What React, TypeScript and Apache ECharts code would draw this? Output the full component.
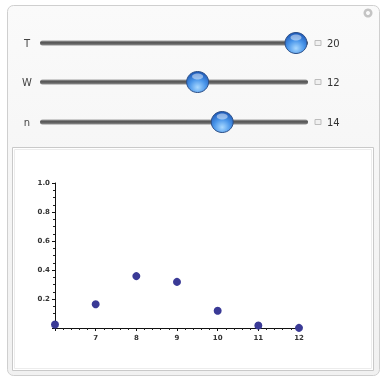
import React, { useEffect, useRef } from "react";
import * as echarts from "echarts";

const successes = [6, 7, 8, 9, 10, 11, 12];
const probabilities = [0.024, 0.164, 0.358, 0.318, 0.119, 0.017, 0.001];
const sliderNames = ["T", "W", "n"];
const sliderValues = [20, 12, 14];
const sliderMax = 20;
const yTicks = [0.2, 0.4, 0.6, 0.8, 1.0];

export default function App() {
  const ref = useRef<HTMLDivElement>(null);
  useEffect(() => {
    if (!ref.current) return;
    const chart = echarts.init(ref.current, null, { renderer: "svg" });

    const trackX0 = 40;
    const trackX1 = 308;
    const thumbMin = 50;
    const thumbMax = 296;
    const rowY = [43, 82, 122];

    const graphics: any[] = [];
    graphics.push({
      type: "rect",
      z: -10,
      shape: { x: 7.5, y: 5.5, width: 372, height: 370, r: 6 },
      style: {
        fill: new echarts.graphic.LinearGradient(0, 0, 0, 1, [
          { offset: 0, color: "#fafafa" },
          { offset: 1, color: "#f1f1f1" },
        ]),
        stroke: "#cfcfcf",
        lineWidth: 1,
      },
    });
    graphics.push({
      type: "ring",
      z: -5,
      shape: { cx: 368, cy: 13, r: 4.5, r0: 2 },
      style: { fill: "#c4c4c4" },
    });
    graphics.push({
      type: "rect",
      z: -9,
      shape: { x: 12.5, y: 147.5, width: 361, height: 223 },
      style: { fill: "#ffffff", stroke: "#c9c9c9", lineWidth: 1 },
    });
    graphics.push({
      type: "rect",
      z: -8,
      shape: { x: 14.5, y: 149.5, width: 357, height: 219 },
      style: { fill: "#ffffff", stroke: "#ececec", lineWidth: 1 },
    });

    sliderNames.forEach((name, i) => {
      const y = rowY[i];
      const v = sliderValues[i];
      const tx = thumbMin + (v / sliderMax) * (thumbMax - thumbMin);
      graphics.push({
        type: "text",
        z: -5,
        style: {
          text: name,
          x: 27,
          y,
          fill: "#444",
          font: "10px 'DejaVu Sans', sans-serif",
          align: "center",
          verticalAlign: "middle",
        },
      });
      graphics.push({
        type: "rect",
        z: -5,
        shape: { x: trackX0, y: y - 2.5, width: trackX1 - trackX0, height: 5, r: 2.5 },
        style: {
          fill: new echarts.graphic.LinearGradient(0, 0, 0, 1, [
            { offset: 0, color: "#a0a0a0" },
            { offset: 0.45, color: "#505050" },
            { offset: 1, color: "#909090" },
          ]),
        },
      });
      graphics.push({
        type: "rect",
        z: -5,
        shape: { x: 315, y: y - 2.5, width: 6, height: 5 },
        style: { fill: "#f0f0f0", stroke: "#bdbdbd", lineWidth: 1 },
      });
      graphics.push({
        type: "text",
        z: -5,
        style: {
          text: String(v),
          x: 327,
          y,
          fill: "#333",
          font: "10px 'DejaVu Sans', sans-serif",
          align: "left",
          verticalAlign: "middle",
        },
      });
      graphics.push({
        type: "ellipse",
        z: -4,
        shape: { cx: tx, cy: y, rx: 11, ry: 10.5 },
        style: {
          fill: new echarts.graphic.RadialGradient(0.5, 0.75, 0.75, [
            { offset: 0, color: "#a8d8ff" },
            { offset: 0.5, color: "#4a96ea" },
            { offset: 1, color: "#1a55b5" },
          ]),
          stroke: "#2d4f86",
          lineWidth: 1,
        },
      });
      graphics.push({
        type: "ellipse",
        z: -3,
        shape: { cx: tx, cy: y - 5.5, rx: 5.5, ry: 3 },
        style: { fill: "rgba(255,255,255,0.45)" },
      });
    });

    chart.setOption({
      animation: false,
      graphic: { elements: graphics },
      grid: { left: 55, top: 183, width: 244, height: 145, containLabel: false },
      xAxis: {
        type: "value",
        min: 6,
        max: 12,
        interval: 1,
        axisLine: { onZero: false, lineStyle: { color: "#111", width: 1 } },
        axisTick: { show: true, length: 3, inside: false, lineStyle: { color: "#111" } },
        minorTick: { show: true, splitNumber: 5, length: 2, lineStyle: { color: "#222" } },
        splitLine: { show: false },
        axisLabel: {
          margin: 6,
          fontSize: 7,
          fontWeight: "bold",
          color: "#333",
          fontFamily: "DejaVu Sans",
          formatter: (v: number) => (v === 6 ? "" : String(v)),
        },
      },
      yAxis: {
        type: "value",
        min: 0,
        max: 1,
        interval: 0.2,
        axisLine: { show: true, lineStyle: { color: "#111", width: 1 } },
        axisTick: { show: true, length: 3, inside: false, lineStyle: { color: "#111" } },
        minorTick: { show: true, splitNumber: 4, length: 2, lineStyle: { color: "#222" } },
        splitLine: { show: false },
        axisLabel: {
          margin: 5,
          fontSize: 7,
          fontWeight: "bold",
          color: "#333",
          fontFamily: "DejaVu Sans",
          formatter: (v: number) => {
            const t = yTicks.find((k) => Math.abs(k - v) < 1e-6);
            return t === undefined ? "" : t.toFixed(1);
          },
        },
      },
      series: [
        {
          type: "scatter",
          data: successes.map((x, i) => [x, probabilities[i]]),
          symbol: "circle",
          symbolSize: 8,
          itemStyle: { color: "#3a3a96", opacity: 1 },
          z: 5,
        },
      ],
    });
    return () => chart.dispose();
  }, []);
  return (
    <div
      ref={ref}
      style={{ position: "fixed", left: 0, top: 0, width: 381, height: 378 }}
    />
  );
}
